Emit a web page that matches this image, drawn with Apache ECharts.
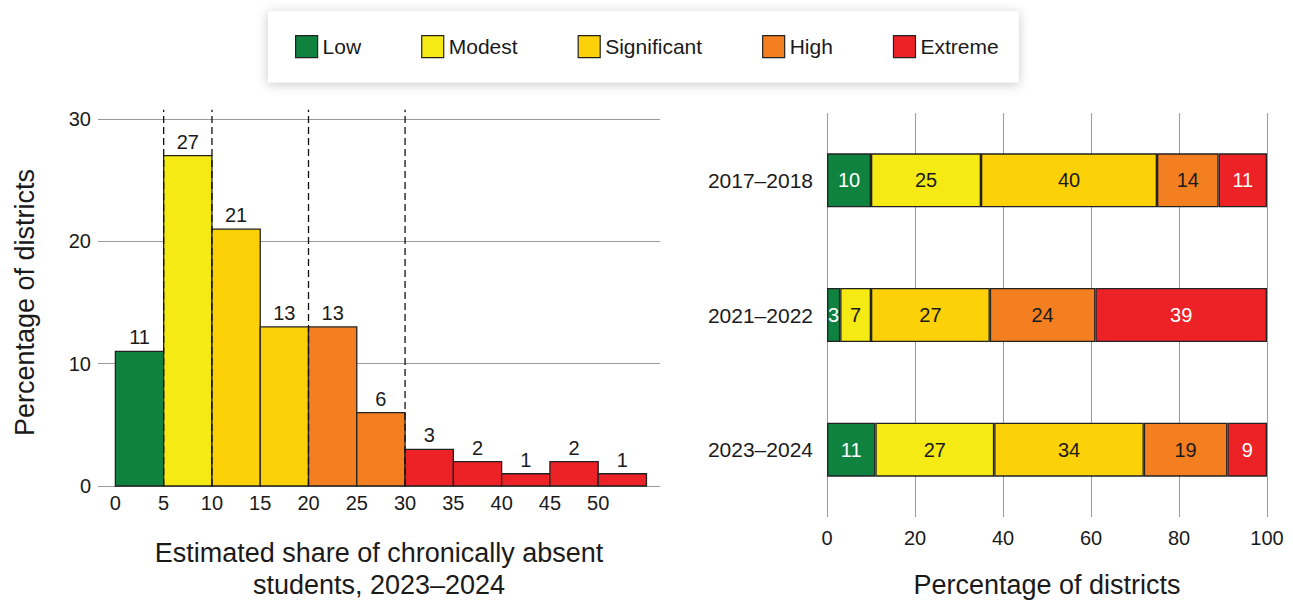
<!DOCTYPE html>
<html>
<head>
<meta charset="utf-8">
<script src="https://cdn.jsdelivr.net/npm/echarts@6.0.0/dist/echarts.min.js"></script>
<style>
  html, body { margin: 0; padding: 0; background: #fff; }
  #chart { width: 1293px; height: 602px; }
</style>
</head>
<body>
<div id="chart"></div>
<script>
// Absence levels and their colours
const levels = ['Low', 'Modest', 'Significant', 'High', 'Extreme'];
const levelColors = {
  Low: '#0f8240',
  Modest: '#f5ea14',
  Significant: '#fdd108',
  High: '#f47f20',
  Extreme: '#ec2227'
};

// Histogram: estimated share of chronically absent students, 2023–2024
const binStarts = [0, 5, 10, 15, 20, 25, 30, 35, 40, 45, 50];
const binShares = [11, 27, 21, 13, 13, 6, 3, 2, 1, 2, 1];
const binLevels = ['Low', 'Modest', 'Significant', 'Significant', 'High', 'High',
                   'Extreme', 'Extreme', 'Extreme', 'Extreme', 'Extreme'];
const binWidth = 5;
const histXTicks = [0, 5, 10, 15, 20, 25, 30, 35, 40, 45, 50];
const histYTicks = [0, 10, 20, 30];
// Level boundaries marked with dashed lines
const levelThresholds = [5, 10, 20, 30];

// Stacked bars: share of districts in each level, by school year
const periods = ['2017–2018', '2021–2022', '2023–2024'];
const lowShare = [10, 3, 11];
const modestShare = [25, 7, 27];
const significantShare = [40, 27, 34];
const highShare = [14, 24, 19];
const extremeShare = [11, 39, 9];
const periodXTicks = [0, 20, 40, 60, 80, 100];

const FONT = '"Liberation Sans", Arial, Helvetica, sans-serif';
const INK = '#1a1a1a';
const GRID_GRAY = '#9a9a9a';
const EDGE = '#222';

const levelSeriesData = {
  Low: lowShare,
  Modest: modestShare,
  Significant: significantShare,
  High: highShare,
  Extreme: extremeShare
};

const chart = echarts.init(document.getElementById('chart'), null, { renderer: 'svg' });

const histData = binStarts.map((s, i) => [s, s + binWidth, binShares[i], i]);

const stackedSeries = levels.map(name => ({
  name: name,
  type: 'bar',
  xAxisIndex: 1,
  yAxisIndex: 1,
  stack: 'districts',
  barWidth: 54,
  data: levelSeriesData[name],
  itemStyle: { color: levelColors[name], borderColor: EDGE, borderWidth: 1.3 },
  label: {
    show: true,
    position: 'inside',
    fontFamily: FONT,
    fontSize: 20,
    color: (name === 'Low' || name === 'Extreme') ? '#fff' : INK
  },
  emphasis: { disabled: true }
}));

const option = {
  animation: false,
  backgroundColor: '#fff',
  textStyle: { fontFamily: FONT, color: INK },
  legend: {
    data: levels,
    left: 268,
    top: 11,
    orient: 'horizontal',
    icon: 'rect',
    itemWidth: 22,
    itemHeight: 22,
    itemGap: 60,
    padding: [24, 20, 24, 27],
    backgroundColor: '#fff',
    shadowBlur: 12,
    shadowColor: 'rgba(0,0,0,0.22)',
    shadowOffsetX: 0,
    shadowOffsetY: 2,
    selectedMode: false,
    itemStyle: { borderColor: EDGE, borderWidth: 1.2 },
    textStyle: { fontFamily: FONT, fontSize: 21, color: INK }
  },
  grid: [
    { left: 98, top: 119, width: 562, height: 367, containLabel: false, outerBoundsMode: 'none' },
    { left: 827, top: 113, width: 440, height: 404, containLabel: false, outerBoundsMode: 'none' }
  ],
  xAxis: [
    {
      type: 'value',
      gridIndex: 0,
      min: -1.8,
      max: 56.4,
      axisLine: { show: false },
      axisTick: { show: false, customValues: histXTicks },
      splitLine: { show: false },
      axisLabel: {
        customValues: histXTicks,
        margin: 7,
        fontFamily: FONT,
        fontSize: 20,
        color: INK
      },
      name: 'Estimated share of chronically absent\nstudents, 2023–2024',
      nameLocation: 'middle',
      nameGap: 51,
      nameTextStyle: { fontFamily: FONT, fontSize: 27, lineHeight: 32, color: INK }
    },
    {
      type: 'value',
      gridIndex: 1,
      min: 0,
      max: 100,
      interval: 20,
      axisLine: { show: false },
      axisTick: { show: false },
      splitLine: { show: true, lineStyle: { color: GRID_GRAY, width: 1 } },
      axisLabel: {
        margin: 11,
        fontFamily: FONT,
        fontSize: 20,
        color: INK,
        customValues: periodXTicks
      },
      name: 'Percentage of districts',
      nameLocation: 'middle',
      nameGap: 54,
      nameTextStyle: { fontFamily: FONT, fontSize: 27, color: INK }
    }
  ],
  yAxis: [
    {
      type: 'value',
      gridIndex: 0,
      min: 0,
      max: 30,
      interval: 10,
      axisLine: { show: false },
      axisTick: { show: false },
      splitLine: { show: true, lineStyle: { color: GRID_GRAY, width: 1 } },
      axisLabel: { margin: 7, fontFamily: FONT, fontSize: 20, color: INK },
      name: 'Percentage of districts',
      nameLocation: 'middle',
      nameRotate: 90,
      nameGap: 60,
      nameTextStyle: { fontFamily: FONT, fontSize: 27, color: INK }
    },
    {
      type: 'category',
      gridIndex: 1,
      data: periods,
      inverse: true,
      axisLine: { show: false },
      axisTick: { show: false },
      splitLine: { show: false },
      axisLabel: { margin: 14, fontFamily: FONT, fontSize: 21, color: INK }
    }
  ],
  series: [
    {
      // Histogram bins, one rectangle per 5-point band
      type: 'custom',
      xAxisIndex: 0,
      yAxisIndex: 0,
      data: histData,
      encode: { x: [0, 1], y: 2 },
      z: 2,
      renderItem: function (params, api) {
        const x0 = api.value(0);
        const x1 = api.value(1);
        const v = api.value(2);
        const lvl = binLevels[api.value(3)];
        const pBase = api.coord([x0, 0]);
        const pTop = api.coord([x1, v]);
        return {
          type: 'group',
          children: [
            {
              type: 'rect',
              shape: {
                x: pBase[0],
                y: pTop[1],
                width: pTop[0] - pBase[0],
                height: pBase[1] - pTop[1]
              },
              style: { fill: levelColors[lvl], stroke: EDGE, lineWidth: 1.3 }
            },
            {
              type: 'text',
              style: {
                text: String(v),
                x: (pBase[0] + pTop[0]) / 2,
                y: pTop[1] - 4,
                align: 'center',
                verticalAlign: 'bottom',
                fontFamily: FONT,
                fontSize: 20,
                fill: INK
              }
            }
          ]
        };
      },
      emphasis: { disabled: true }
    },
    {
      // Dashed boundaries between absence levels
      type: 'custom',
      xAxisIndex: 0,
      yAxisIndex: 0,
      data: levelThresholds.map(t => [t]),
      encode: { x: 0 },
      z: 3,
      clip: false,
      silent: true,
      renderItem: function (params, api) {
        const t = api.value(0);
        const pLow = api.coord([t, 0]);
        const pHigh = api.coord([t, 30.75]);
        return {
          type: 'line',
          shape: { x1: pLow[0], y1: pLow[1], x2: pHigh[0], y2: pHigh[1] },
          style: { stroke: '#111', lineWidth: 1.3, lineDash: [7, 4] }
        };
      }
    }
  ].concat(stackedSeries)
};

chart.setOption(option);
</script>
</body>
</html>
